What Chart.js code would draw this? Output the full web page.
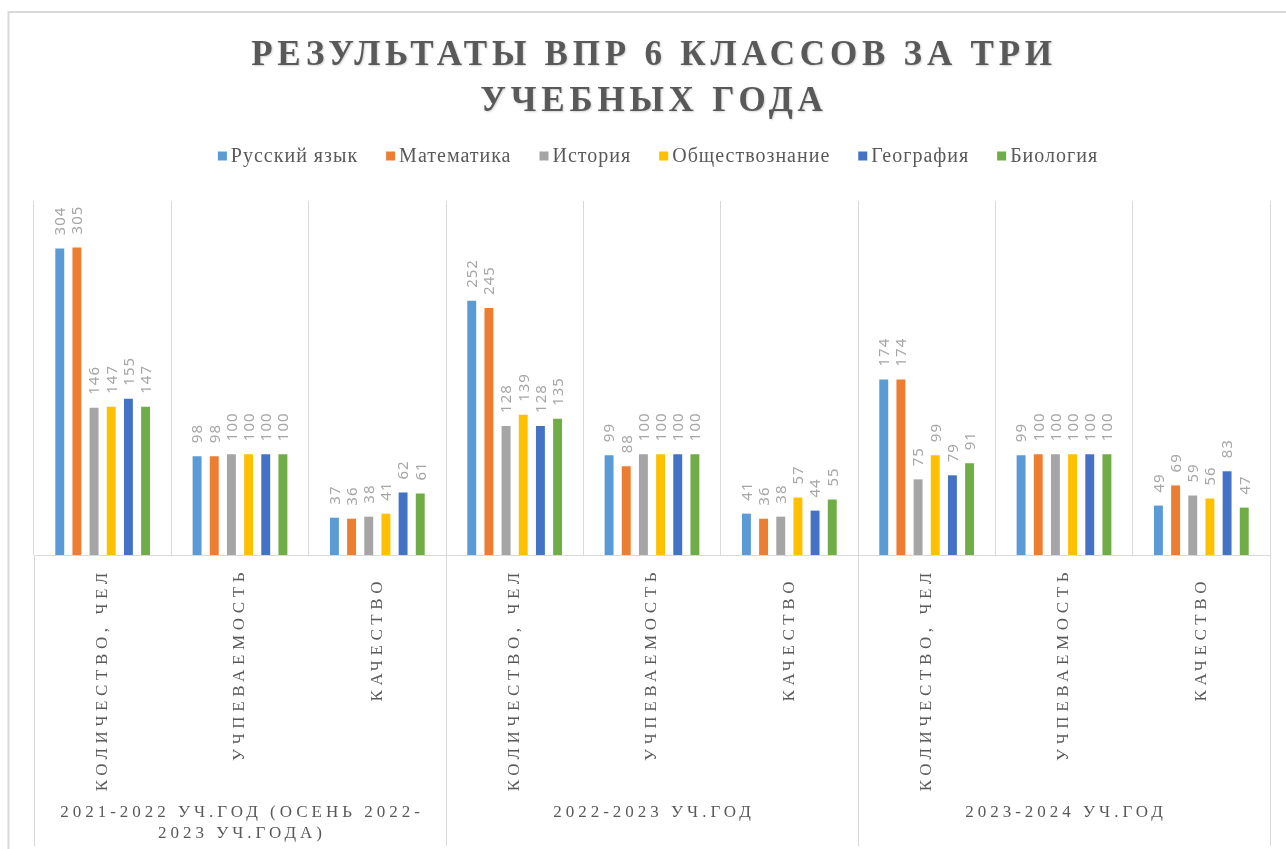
<!DOCTYPE html>
<html>
<head>
<meta charset="utf-8">
<script src="https://cdn.jsdelivr.net/npm/chart.js@4.4.1/dist/chart.umd.min.js"></script>
<style>
html,body{margin:0;padding:0;background:#fff;}
#wrap{position:relative;width:1286px;height:849px;}
</style>
</head>
<body>
<div id="wrap"><canvas id="vprChart" width="1286" height="849"></canvas></div>
<script>
// categories (3 per school year), year groups, series
const categories = ['КОЛИЧЕСТВО, ЧЕЛ', 'УЧПЕВАЕМОСТЬ', 'КАЧЕСТВО ',
                    'КОЛИЧЕСТВО, ЧЕЛ', 'УЧПЕВАЕМОСТЬ', 'КАЧЕСТВО ',
                    'КОЛИЧЕСТВО, ЧЕЛ', 'УЧПЕВАЕМОСТЬ', 'КАЧЕСТВО '];
const years = [['2021-2022 УЧ.ГОД (ОСЕНЬ 2022-', '2023 УЧ.ГОДА)'],
               ['2022-2023 УЧ.ГОД'],
               ['2023-2024 УЧ.ГОД']];
const subjects = ['Русский язык', 'Математика', 'История', 'Обществознание', 'География', 'Биология'];

const russian   = [304, 98, 37, 252, 99, 41, 174, 99, 49];
const math      = [305, 98, 36, 245, 88, 36, 174, 100, 69];
const history   = [146, 100, 38, 128, 100, 38, 75, 100, 59];
const social    = [147, 100, 41, 139, 100, 57, 99, 100, 56];
const geography = [155, 100, 62, 128, 100, 44, 79, 100, 83];
const biology   = [147, 100, 61, 135, 100, 55, 91, 100, 47];

const colors = ['#5B9BD5', '#ED7D31', '#A5A5A5', '#FFC000', '#4472C4', '#70AD47'];
const titleLines = ['РЕЗУЛЬТАТЫ ВПР 6 КЛАССОВ ЗА ТРИ', 'УЧЕБНЫХ ГОДА'];

const series = [russian, math, history, social, geography, biology];

const decor = {
    id: 'decor',
    beforeDraw(chart){
        const ctx = chart.ctx;
        ctx.save();
        ctx.fillStyle = '#fff';
        ctx.fillRect(0, 0, chart.width, chart.height);
        // outer frame
        ctx.strokeStyle = '#d9d9d9';
        ctx.lineWidth = 2;
        ctx.beginPath();
        ctx.moveTo(8.5, 860);
        ctx.lineTo(8.5, 12);
        ctx.lineTo(1300, 12);
        ctx.stroke();

        // title
        ctx.fillStyle = '#595959';
        ctx.font = 'bold 35px "Liberation Serif"';
        ctx.letterSpacing = '4.8px';
        ctx.textAlign = 'center';
        ctx.textBaseline = 'middle';
        ctx.shadowColor = 'rgba(0,0,0,0.18)';
        ctx.shadowOffsetX = 1;
        ctx.shadowOffsetY = 1;
        ctx.shadowBlur = 2;
        titleLines.forEach((t, i) => ctx.fillText(t, 654, 56 + i * 46));
        ctx.shadowColor = 'transparent';

        // legend
        ctx.letterSpacing = '1px';
        ctx.font = '20px "Liberation Serif"';
        ctx.textAlign = 'left';
        const box = 9, gapText = 4, gapItem = 28;
        let widths = subjects.map(s => box + gapText + ctx.measureText(s).width);
        let total = widths.reduce((a, b) => a + b, 0) + gapItem * (subjects.length - 1);
        let x = 658 - total / 2;
        const ly = 157;
        subjects.forEach((s, i) => {
            ctx.fillStyle = chart.data.datasets[i].backgroundColor;
            ctx.fillRect(x, ly - box / 2 - 1, box, box);
            ctx.fillStyle = '#595959';
            ctx.fillText(s, x + box + gapText, ly);
            x += widths[i] + gapItem;
        });
        ctx.restore();
    },
    afterDatasetsDraw(chart){
        const ctx = chart.ctx;
        ctx.save();
        ctx.fillStyle = '#a6a6a6';
        ctx.font = '15px "Noto Sans"';
        ctx.letterSpacing = '1px';
        ctx.textAlign = 'left';
        ctx.textBaseline = 'middle';
        chart.data.datasets.forEach((ds, di) => {
            chart.getDatasetMeta(di).data.forEach((bar, i) => {
                ctx.save();
                ctx.translate(bar.x + 1, bar.y - 13);
                ctx.rotate(-Math.PI / 2);
                ctx.fillText(String(ds.data[i]), 0, 0);
                ctx.restore();
            });
        });
        ctx.restore();
    },
    afterDraw(chart){
        const ctx = chart.ctx;
        const xs = chart.scales.x;
        const area = chart.chartArea;
        const half = (xs.getPixelForValue(1) - xs.getPixelForValue(0)) / 2;
        ctx.save();
        // category labels, rotated
        ctx.fillStyle = '#595959';
        ctx.font = '17px "Liberation Serif"';
        ctx.letterSpacing = '4.6px';
        ctx.textBaseline = 'middle';
        ctx.textAlign = 'right';
        categories.forEach((c, i) => {
            ctx.save();
            ctx.translate(xs.getPixelForValue(i), 568);
            ctx.rotate(-Math.PI / 2);
            ctx.fillText(c, 0, 0);
            ctx.restore();
        });
        // year labels
        ctx.font = '17px "Liberation Serif"';
        ctx.letterSpacing = '4px';
        ctx.textAlign = 'center';
        years.forEach((lines, g) => {
            const cx = xs.getPixelForValue(g * 3 + 1) + 2;
            lines.forEach((l, k) => ctx.fillText(l, cx, 813 + k * 21));
        });
        // group separators below the axis
        ctx.strokeStyle = '#d9d9d9';
        ctx.lineWidth = 1;
        ctx.beginPath();
        for (let g = 0; g <= years.length; g++) {
            const px = Math.round(xs.getPixelForValue(g * 3) - half) + 0.5;
            ctx.moveTo(px, area.bottom);
            ctx.lineTo(px, 846);
        }
        ctx.stroke();
        ctx.restore();
    }
};

new Chart(document.getElementById('vprChart').getContext('2d'), {
    type: 'bar',
    data: {
        labels: categories,
        datasets: subjects.map((s, i) => ({
            label: s,
            data: series[i],
            backgroundColor: colors[i],
            borderWidth: 0,
            barPercentage: 0.52,
            categoryPercentage: 0.75
        }))
    },
    options: {
        responsive: false,
        animation: false,
        devicePixelRatio: 1,
        layout: { padding: { left: 34, right: 16, top: 201, bottom: 294 } },
        plugins: {
            legend: { display: false },
            title: { display: false },
            tooltip: { enabled: false }
        },
        scales: {
            x: {
                grid: { color: '#d9d9d9', lineWidth: 1, drawTicks: false, offset: true },
                border: { color: '#d9d9d9', width: 1 },
                ticks: { display: false }
            },
            y: { display: false, min: 0, max: 351 }
        }
    },
    plugins: [decor]
});
</script>
</body>
</html>
